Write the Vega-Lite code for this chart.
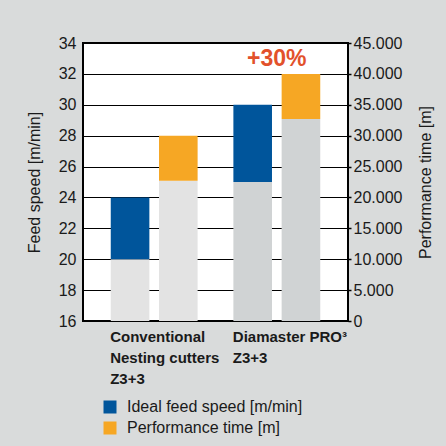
{
  "$schema": "https://vega.github.io/schema/vega-lite/v6.json",
  "width": 265,
  "height": 278,
  "padding": {"left": 26, "top": 35, "right": 30, "bottom": 30},
  "background": "#d9dbdb",
  "config": {
    "font": "Liberation Sans",
    "view": {"stroke": "#000000", "strokeWidth": 2, "fill": "#ffffff"}
  },
  "datasets": {
    "feed": [
      {"group": "Conventional", "measure": "feed", "part": "conv", "lo": 16, "hi": 20},
      {"group": "Conventional", "measure": "feed", "part": "Ideal feed speed [m/min]", "lo": 20, "hi": 24},
      {"group": "Diamaster", "measure": "feed", "part": "dia", "lo": 16, "hi": 25},
      {"group": "Diamaster", "measure": "feed", "part": "Ideal feed speed [m/min]", "lo": 25, "hi": 30}
    ],
    "perf": [
      {"group": "Conventional", "measure": "perf", "part": "conv", "lo": 0, "hi": 22700},
      {"group": "Conventional", "measure": "perf", "part": "Performance time [m]", "lo": 22700, "hi": 30000},
      {"group": "Diamaster", "measure": "perf", "part": "dia", "lo": 0, "hi": 32700},
      {"group": "Diamaster", "measure": "perf", "part": "Performance time [m]", "lo": 32700, "hi": 40000}
    ],
    "note": [
      {"group": "Diamaster", "v": 32.5, "label": "+30%"}
    ]
  },
  "layer": [
    {
      "layer": [
        {
          "data": {"name": "feed"},
          "mark": {"type": "bar"},
          "encoding": {
            "x": {
              "field": "group", "type": "nominal",
              "scale": {"domain": ["Conventional", "Diamaster"], "paddingInner": 0.213, "paddingOuter": 0.187},
              "axis": {
                "title": null, "domain": false, "ticks": false, "labelAngle": 0,
                "labelAlign": "left", "labelBaseline": "top", "labelOffset": -44, "labelPadding": 8,
                "labelFontSize": 15, "labelFontWeight": "bold", "labelLineHeight": 21, "labelColor": "#1a1a1a",
                "labelExpr": "datum.value == 'Conventional' ? ['Conventional', 'Nesting cutters', 'Z3+3'] : ['Diamaster PRO³', 'Z3+3']"
              }
            },
            "xOffset": {
              "field": "measure", "type": "nominal",
              "scale": {"domain": ["feed", "perf"], "paddingInner": 0.2, "paddingOuter": 0.1}
            },
            "y": {
              "field": "lo", "type": "quantitative",
              "scale": {"domain": [16, 34], "nice": false, "zero": false},
              "axis": {
                "values": [16, 18, 20, 22, 24, 26, 28, 30, 32, 34],
                "labelOverlap": false,
                "grid": true, "gridColor": "#000000", "gridWidth": 1, "gridOpacity": 1,
                "domain": false, "ticks": false, "labelPadding": 7, "labelFontSize": 16, "labelColor": "#1a1a1a",
                "title": "Feed speed [m/min]", "titleFontSize": 16, "titleFontWeight": "normal", "titleColor": "#1a1a1a", "titlePadding": 16
              }
            },
            "y2": {"field": "hi"},
            "color": {
              "field": "part", "type": "nominal",
              "scale": {
                "domain": ["Ideal feed speed [m/min]", "Performance time [m]", "conv", "dia"],
                "range": ["#00559b", "#f6a724", "#e3e3e3", "#d0d3d4"]
              },
              "legend": {
                "orient": "none", "legendX": 19, "legendY": 356, "title": null,
                "values": ["Ideal feed speed [m/min]", "Performance time [m]"],
                "symbolType": "square", "symbolSize": 169, "symbolStrokeWidth": 0, "symbolOpacity": 1,
                "labelFontSize": 16, "labelOffset": 9, "labelLimit": 400, "rowPadding": 5, "padding": 0, "labelColor": "#1a1a1a"
              }
            }
          }
        },
        {
          "data": {"name": "note"},
          "mark": {"type": "text", "fontSize": 23, "fontWeight": "bold", "color": "#e2512b", "baseline": "alphabetic", "align": "center"},
          "encoding": {
            "x": {"field": "group", "type": "nominal"},
            "y": {
              "field": "v", "type": "quantitative",
              "axis": {
                "values": [16, 18, 20, 22, 24, 26, 28, 30, 32, 34],
                "labelOverlap": false,
                "grid": true, "gridColor": "#000000", "gridWidth": 1, "gridOpacity": 1,
                "domain": false, "ticks": false, "labelPadding": 7, "labelFontSize": 16, "labelColor": "#1a1a1a",
                "title": "Feed speed [m/min]", "titleFontSize": 16, "titleFontWeight": "normal", "titleColor": "#1a1a1a", "titlePadding": 16
              }
            },
            "text": {"field": "label"}
          }
        }
      ]
    },
    {
      "data": {"name": "perf"},
      "mark": {"type": "bar"},
      "encoding": {
        "x": {"field": "group", "type": "nominal"},
        "xOffset": {"field": "measure", "type": "nominal"},
        "y": {
          "field": "lo", "type": "quantitative",
          "scale": {"domain": [0, 45000], "nice": false},
          "axis": {
            "orient": "right",
            "values": [0, 5000, 10000, 15000, 20000, 25000, 30000, 35000, 40000, 45000],
            "labelOverlap": false,
            "grid": false, "domain": false, "ticks": true, "tickSize": 3, "tickColor": "#000000", "tickWidth": 1.5,
            "labelPadding": 2, "labelFontSize": 16, "labelColor": "#1a1a1a",
            "labelExpr": "replace(format(datum.value, ','), ',', '.')",
            "title": "Performance time [m]", "titleAngle": 270, "titleBaseline": "top", "titleFontSize": 16, "titleFontWeight": "normal", "titleColor": "#1a1a1a", "titlePadding": 16
          }
        },
        "y2": {"field": "hi"},
        "color": {"field": "part", "type": "nominal"}
      }
    }
  ],
  "resolve": {"scale": {"y": "independent"}}
}
